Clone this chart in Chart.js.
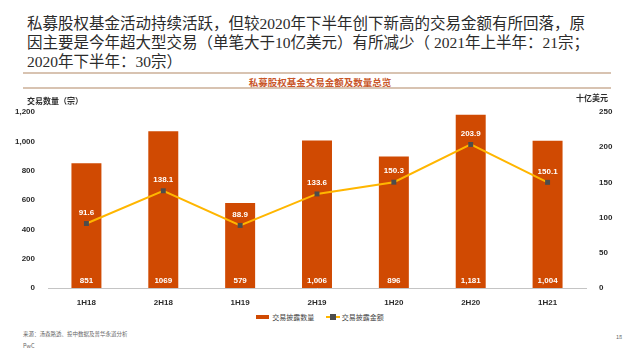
<!DOCTYPE html>
<html>
<head>
<meta charset="utf-8">
<script src="https://cdn.jsdelivr.net/npm/chart.js@4.4.1/dist/chart.umd.min.js"></script>
<style>
  body { margin: 0; width: 640px; height: 360px; background: #fff; position: relative; overflow: hidden; font-family: "Liberation Sans", "Noto Sans CJK SC", sans-serif; }
  .abs { position: absolute; white-space: nowrap; }
  #title { left: 27px; top: 14px; font-family: "Liberation Serif", "Noto Sans CJK SC", serif; font-size: 15.5px; line-height: 19px; color: #2b2b2b; }
  .rule { position: absolute; left: 23px; width: 588px; height: 2px; background: #d8c3b1; }
  #sub { left: 0; width: 640px; top: 75px; text-align: center; font-size: 9.5px; font-weight: bold; color: #c9572a; font-family: "Noto Sans CJK SC", sans-serif; }
  .axt { font-size: 8px; font-weight: bold; color: #2b2b2b; font-family: "Noto Sans CJK SC", sans-serif; z-index: 2; }
  #leg { top: 311px; left: 0; width: 640px; text-align: center; font-size: 7px; color: #444; font-family: "Noto Sans CJK SC", sans-serif; }
  #leg span { display: inline-block; vertical-align: middle; }
  .foot { font-size: 5.5px; color: #666; font-family: "Noto Sans CJK SC", sans-serif; }
</style>
</head>
<body>
<div id="title" class="abs">私募股权基金活动持续活跃，但较2020年下半年创下新高的交易金额有所回落，原<br>因主要是今年超大型交易（单笔大于10亿美元）有所减少（ 2021年上半年：21宗；<br>2020年下半年：30宗）</div>
<div class="rule" style="top:72px"></div>
<div class="rule" style="top:87px"></div>
<div id="sub" class="abs">私募股权基金交易金额及数量总览</div>
<div class="abs axt" style="left:27px;top:95px">交易数量（宗）</div>
<div class="abs axt" style="left:576px;top:92px;color:#2b2b2b">十亿美元</div>
<canvas id="chart" class="abs" style="left:0;top:95px" width="640" height="213"></canvas>
<div id="leg" class="abs">
  <span style="width:13px;height:4px;background:#D04A02"></span><span style="margin:0 10px 0 3px">交易披露数量</span>
  <span style="position:relative;width:14px;height:6px"><span style="position:absolute;left:0;top:2px;width:14px;height:2px;background:#FFB600"></span><span style="position:absolute;left:4px;top:0;width:6px;height:6px;background:#4d4d4d"></span></span><span style="margin-left:2px">交易披露金额</span>
</div>
<div class="abs foot" style="left:23px;top:330px">来源：汤森路透、投中数据及普华永道分析</div>
<div class="abs foot" style="left:23px;top:342px">PwC</div>
<div class="abs foot" style="left:616px;top:333px">18</div>
<script>
const categories = ['1H18','2H18','1H19','2H19','1H20','2H20','1H21'];
const dealCount = [851, 1069, 579, 1006, 896, 1181, 1004];
const dealCountLabels = ['851','1069','579','1,006','896','1,181','1,004'];
const dealValue = [91.6, 138.1, 88.9, 133.6, 150.3, 203.9, 150.1];

const tickFont = { family: 'Liberation Sans, Arial, sans-serif', size: 8, weight: 'bold' };

const labelPlugin = {
  id: 'labels',
  afterDatasetsDraw(chart) {
    const c = chart.ctx;
    c.save();
    c.fillStyle = '#ffffff';
    c.font = 'bold 8px "Liberation Sans", Arial, sans-serif';
    c.textAlign = 'center';
    c.textBaseline = 'middle';
    chart.getDatasetMeta(0).data.forEach((bar, i) => {
      c.fillText(dealCountLabels[i], bar.x, chart.chartArea.bottom - 7);
    });
    chart.getDatasetMeta(1).data.forEach((pt, i) => {
      c.fillText(dealValue[i].toFixed(1), pt.x, pt.y - 11);
    });
    c.restore();
  }
};

new Chart(document.getElementById('chart'), {
  type: 'bar',
  data: {
    labels: categories,
    datasets: [{
      type: 'bar',
      label: '交易披露数量',
      data: dealCount,
      backgroundColor: '#D04A02',
      yAxisID: 'y',
      barPercentage: 0.39,
      categoryPercentage: 1,
      order: 1
    }, {
      type: 'line',
      label: '交易披露金额',
      data: dealValue,
      borderColor: '#FFB600',
      borderWidth: 2,
      pointStyle: 'rect',
      pointRadius: 3.5,
      pointBackgroundColor: '#4d4d4d',
      pointBorderColor: '#4d4d4d',
      pointBorderWidth: 0,
      yAxisID: 'y1',
      order: 0
    }]
  },
  options: {
    responsive: false,
    animation: false,
    layout: { padding: { top: 17 } },
    plugins: { legend: { display: false }, tooltip: { enabled: false } },
    scales: {
      x: {
        grid: { display: false },
        border: { display: true, color: '#c4c4c4', width: 1 },
        ticks: { color: '#2b2b2b', font: tickFont, padding: 2 },
        afterFit(s) { s.height = 20; }
      },
      y: {
        position: 'left',
        min: 0, max: 1200,
        grid: { display: false },
        border: { display: false },
        ticks: { stepSize: 200, color: '#2b2b2b', font: tickFont, padding: 5 },
        afterFit(s) { s.width = 48; }
      },
      y1: {
        position: 'right',
        min: 0, max: 250,
        grid: { display: false },
        border: { display: false },
        ticks: { stepSize: 50, color: '#2b2b2b', font: tickFont, padding: 5 },
        afterFit(s) { s.width = 54; }
      }
    }
  },
  plugins: [labelPlugin]
});
</script>
</body>
</html>
